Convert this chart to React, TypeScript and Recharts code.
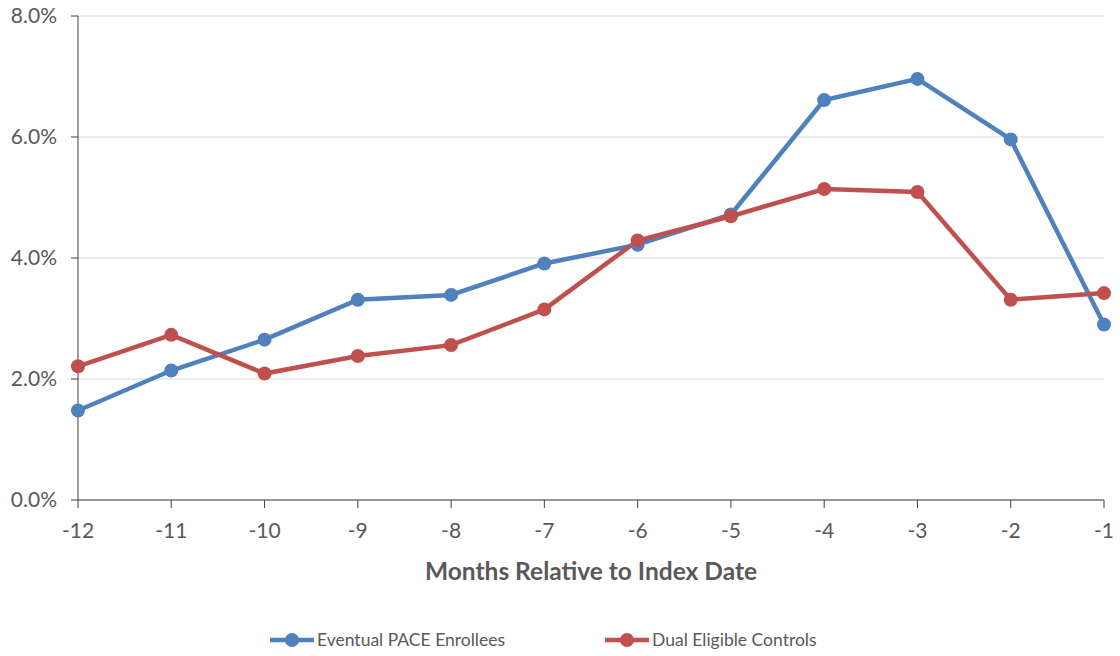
import React from 'react';
import { LineChart, Line, XAxis, YAxis, CartesianGrid, Legend, Label } from 'recharts';

// Months before the index date
const months = [-12, -11, -10, -9, -8, -7, -6, -5, -4, -3, -2, -1];
// Monthly rates (%) for each group
const paceEnrollees = [1.48, 2.14, 2.65, 3.31, 3.39, 3.91, 4.22, 4.72, 6.61, 6.96, 5.96, 2.9];
const dualControls = [2.21, 2.73, 2.09, 2.38, 2.56, 3.15, 4.29, 4.69, 5.14, 5.09, 3.31, 3.42];
const yTicks = [0, 2, 4, 6, 8];
const seriesNames = ['Eventual PACE Enrollees', 'Dual Eligible Controls'];
const seriesColors = ['#4F81BD', '#C0504D'];
const axisTitle = 'Months Relative to Index Date';

const data = months.map((m, i) => ({ month: m, pace: paceEnrollees[i], dual: dualControls[i] }));

const FONT = 'Lato, "Open Sans", sans-serif';
const TEXT = '#595959';

const LegendContent = () => (
  <div style={{ display: 'flex', alignItems: 'center', paddingLeft: 270, gap: 100, fontFamily: FONT, fontSize: 17.5, color: TEXT }}>
    {seriesNames.map((name, i) => (
      <div key={name} style={{ display: 'flex', alignItems: 'center' }}>
        <svg width={44} height={14} style={{ marginRight: 3 }}>
          <line x1={0} y1={7} x2={44} y2={7} stroke={seriesColors[i]} strokeWidth={4.5} />
          <circle cx={22} cy={7} r={7} fill={seriesColors[i]} />
        </svg>
        <span>{name}</span>
      </div>
    ))}
  </div>
);

export default function App() {
  return (
    <div style={{ position: 'absolute', left: 0, top: 0, width: 1120, height: 656, background: '#fff' }}>
      <LineChart width={1120} height={656} data={data} margin={{ top: 16, right: 16, left: 18, bottom: 40 }}>
        <CartesianGrid horizontal vertical={false} stroke="#D9D9D9" strokeWidth={1.2} />
        <XAxis
          dataKey="month"
          type="number"
          domain={[-12, -1]}
          ticks={months}
          height={80}
          stroke="#404040"
          tickSize={8}
          tickMargin={15}
          tick={{ fill: TEXT, fontSize: 21, fontFamily: FONT }}
        >
          <Label value={axisTitle} position="insideBottom" offset={0} style={{ fill: TEXT, fontSize: 24.5, fontWeight: 700, fontFamily: FONT }} />
        </XAxis>
        <YAxis
          width={60}
          domain={[0, 8]}
          ticks={yTicks}
          stroke="#404040"
          tickSize={7}
          tickMargin={14}
          tickFormatter={(v: number) => `${v.toFixed(1)}%`}
          tick={{ fill: TEXT, fontSize: 21, fontFamily: FONT }}
        />
        <Legend verticalAlign="bottom" height={36} content={<LegendContent />} wrapperStyle={{ top: 629, bottom: 'auto', left: 0, width: 1120 }} />
        <Line
          name={seriesNames[0]}
          dataKey="pace"
          stroke={seriesColors[0]}
          strokeWidth={4.5}
          dot={{ r: 7, fill: seriesColors[0], stroke: seriesColors[0], strokeWidth: 0 }}
          isAnimationActive={false}
        />
        <Line
          name={seriesNames[1]}
          dataKey="dual"
          stroke={seriesColors[1]}
          strokeWidth={4.5}
          dot={{ r: 7, fill: seriesColors[1], stroke: seriesColors[1], strokeWidth: 0 }}
          isAnimationActive={false}
        />
      </LineChart>
    </div>
  );
}
